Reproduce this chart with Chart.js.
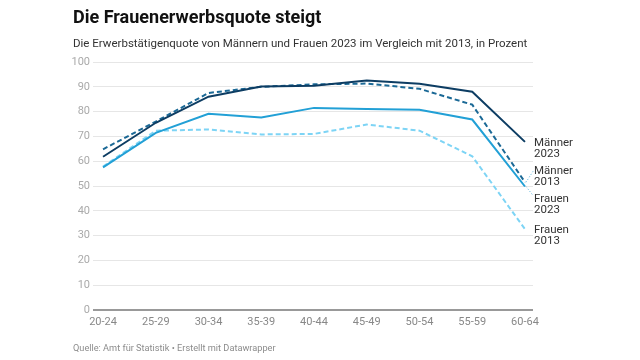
<!DOCTYPE html>
<html lang="de">
<head>
<meta charset="utf-8">
<script src="https://cdn.jsdelivr.net/npm/chart.js@4"></script>
<style>
  html, body { margin: 0; padding: 0; background: #fff; }
  body { width: 640px; height: 360px; position: relative; overflow: hidden; font-family: Roboto, sans-serif; }
  #title { position: absolute; left: 73px; top: 8px; font-size: 18px; line-height: 18px; font-weight: 700; color: #111; white-space: nowrap; }
  #subtitle { position: absolute; left: 73px; top: 37px; font-size: 11.5px; line-height: 12px; color: #333; white-space: nowrap; }
  #footer { position: absolute; left: 73px; top: 343px; font-size: 9.2px; line-height: 10px; color: #8c8c8c; white-space: nowrap; }
  #wrap { position: absolute; left: 0; top: 0; width: 640px; height: 360px; }
</style>
</head>
<body>
<div id="wrap"><canvas id="chart"></canvas></div>
<div id="title">Die Frauenerwerbsquote steigt</div>
<div id="subtitle">Die Erwerbstätigenquote von Männern und Frauen 2023 im Vergleich mit 2013, in Prozent</div>
<div id="footer">Quelle: Amt für Statistik • Erstellt mit Datawrapper</div>
<script>
// Altersgruppen
const categories = ['20-24', '25-29', '30-34', '35-39', '40-44', '45-49', '50-54', '55-59', '60-64'];

// Erwerbstätigenquote in Prozent
const maenner2023 = [61.8, 75.5, 86.0, 90.1, 90.4, 92.5, 91.2, 88.0, 67.8];
const maenner2013 = [64.8, 76.0, 87.5, 90.0, 91.0, 91.3, 89.2, 82.8, 51.5];
const frauen2023 = [57.5, 71.4, 79.1, 77.6, 81.5, 81.0, 80.7, 76.8, 49.8];
const frauen2013 = [57.8, 72.3, 72.8, 70.8, 71.0, 74.8, 72.3, 62.0, 32.6];

const seriesLabels = [['Männer', '2023'], ['Männer', '2013'], ['Frauen', '2023'], ['Frauen', '2013']];

function toPoints(values) {
    return values.map((v, i) => ({ x: i, y: v }));
}

// Beschriftungen am Linienende, mit einfacher Kollisionsvermeidung
const endLabels = {
    id: 'endLabels',
    afterDatasetsDraw(chart) {
        const ctx = chart.ctx;
        const area = chart.chartArea;
        const items = chart.data.datasets.map((ds, i) => {
            const meta = chart.getDatasetMeta(i);
            const pt = meta.data[meta.data.length - 1];
            return { px: pt.x, py: pt.y, y: pt.y, lines: seriesLabels[i], color: ds.borderColor };
        }).sort((a, b) => a.py - b.py);

        const gap = 28;
        for (let iter = 0; iter < 20; iter++) {
            for (let i = 1; i < items.length; i++) {
                const d = items[i].y - items[i - 1].y;
                if (d < gap) {
                    const shift = (gap - d) / 2;
                    items[i - 1].y -= shift;
                    items[i].y += shift;
                }
            }
        }

        const tx = area.right + 1;
        ctx.save();
        items.forEach(it => {
            if (Math.abs(it.y - it.py) > 3) {
                ctx.beginPath();
                ctx.setLineDash([1, 2]);
                ctx.lineWidth = 1;
                ctx.strokeStyle = '#4aaedb';
                ctx.moveTo(it.px + 1, it.py);
                ctx.lineTo(tx - 1, it.y + (it.y < it.py ? 1 : -3));
                ctx.stroke();
            }
            ctx.setLineDash([]);
            ctx.fillStyle = '#333';
            ctx.font = '11.5px Roboto';
            ctx.textAlign = 'left';
            ctx.textBaseline = 'middle';
            ctx.fillText(it.lines[0], tx, it.y + 1);
            ctx.fillText(it.lines[1], tx, it.y + 12);
        });
        ctx.restore();
    }
};

new Chart(document.getElementById('chart'), {
    type: 'line',
    data: {
        datasets: [
            {
                label: 'Männer 2023',
                data: toPoints(maenner2023),
                borderColor: '#0d3d63',
                borderWidth: 2
            },
            {
                label: 'Männer 2013',
                data: toPoints(maenner2013),
                borderColor: '#1b6996',
                borderWidth: 2,
                borderDash: [5, 3]
            },
            {
                label: 'Frauen 2023',
                data: toPoints(frauen2023),
                borderColor: '#22a0d6',
                borderWidth: 2
            },
            {
                label: 'Frauen 2013',
                data: toPoints(frauen2013),
                borderColor: '#7dd4f5',
                borderWidth: 2,
                borderDash: [5, 3]
            }
        ]
    },
    options: {
        responsive: true,
        maintainAspectRatio: false,
        animation: false,
        layout: {
            padding: { left: 0, top: 62, right: 107, bottom: 30 }
        },
        elements: {
            point: { radius: 0, hoverRadius: 0 },
            line: { tension: 0, fill: false, borderCapStyle: 'butt', borderJoinStyle: 'miter' }
        },
        plugins: {
            legend: { display: false },
            tooltip: { enabled: false }
        },
        scales: {
            x: {
                type: 'linear',
                min: -0.19,
                max: 8.152,
                afterFit(scale) { scale.height = 20; },
                grid: { display: false, drawTicks: false },
                border: { display: false },
                ticks: {
                    stepSize: 1,
                    includeBounds: false,
                    autoSkip: false,
                    maxRotation: 0,
                    padding: 6,
                    color: '#888',
                    font: { family: 'Roboto', size: 11 },
                    callback: v => categories[v] ?? ''
                }
            },
            y: {
                min: 0,
                max: 100,
                afterFit(scale) { scale.width = 93; },
                grid: {
                    drawTicks: false,
                    color: c => c.tick && c.tick.value === 0 ? '#999' : '#e6e6e6',
                    lineWidth: c => c.tick && c.tick.value === 0 ? 2 : 1
                },
                border: { display: false },
                ticks: {
                    stepSize: 10,
                    padding: 3,
                    color: '#aaa',
                    font: { family: 'Roboto', size: 11 }
                }
            }
        }
    },
    plugins: [endLabels]
});
</script>
</body>
</html>
